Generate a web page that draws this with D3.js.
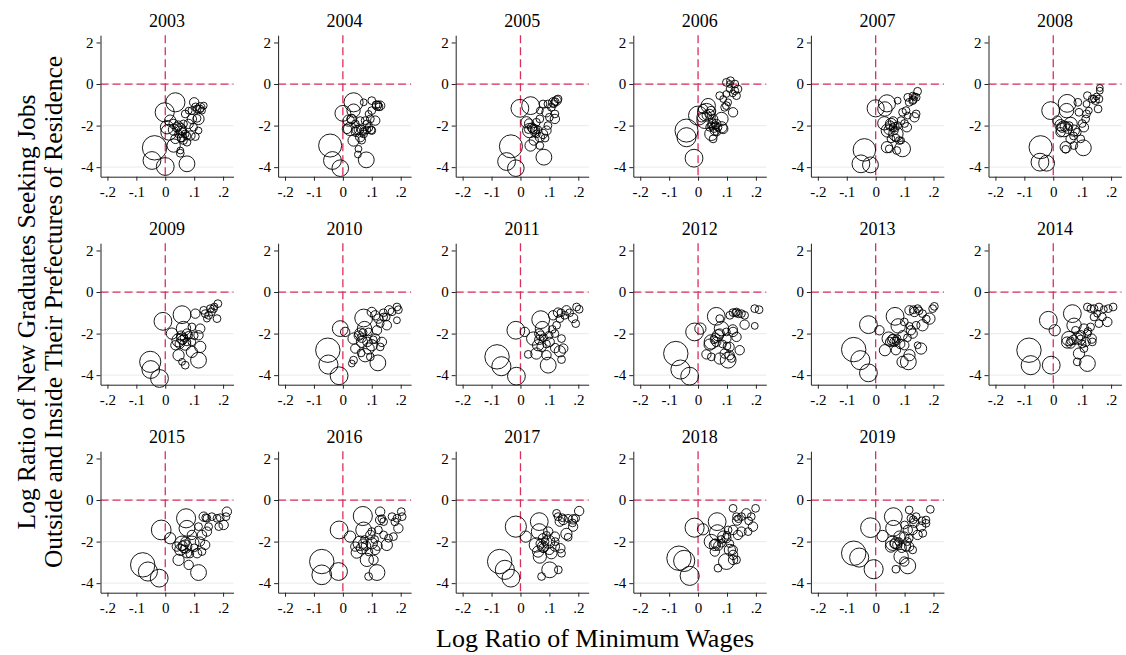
<!DOCTYPE html>
<html>
<head>
<meta charset="utf-8">
<script src="https://cdn.jsdelivr.net/npm/d3@7"></script>
<style>
  body { margin: 0; background: #fff; }
  text { font-family: "Liberation Serif", "Times New Roman", serif; }
</style>
</head>
<body>
<script>
// panels, one per year
const years = [2003, 2004, 2005, 2006, 2007, 2008, 2009, 2010, 2011, 2012, 2013, 2014, 2015, 2016, 2017, 2018, 2019];
const xTicks = [-0.2, -0.1, 0, 0.1, 0.2];
const xTickLabels = ["-.2", "-.1", "0", ".1", ".2"];
const yTicks = [-4, -2, 0, 2];
const gridTicks = [-4, -2, 0];

// [log ratio of min wages, log ratio of job seekers, weight]
const pts2003 = [[-0.037,-3.07,95],[-0.046,-3.68,48],[0,-3.97,48],[0.075,-3.84,37],[-0.002,-1.36,56],[0.035,-0.88,56],[0.012,-2.32,37],[0.029,-2.96,25],[0.017,-1.76,17],[0.052,-2.16,17],[0.052,-3.2,5],[0.052,-3.33,7],[0.1,-0.88,11],[0.092,-1.28,7],[0.121,-1.12,11],[0.115,-1.68,17],[0.092,-1.68,11],[0.087,-2.48,11],[0.104,-2.53,7],[0.075,-2.8,7],[0.058,-2.56,11],[0.04,-2.08,11],[0.063,-1.92,7],[0.069,-1.44,7],[0.11,-1.2,7],[0.133,-1.04,5],[0.127,-1.28,5],[0.081,-1.28,5],[0.058,-2.24,11],[0.029,-1.92,11],[0.046,-2.4,7],[0.069,-2.4,7],[0.063,-2.72,7],[0.006,-2.08,25],[0.081,-1.92,11],[0.098,-2.08,7],[0.035,-2.64,11],[0.115,-2.24,5],[0.045,-2.0,11],[0.06,-2.3,7],[0.055,-2.6,7],[0.105,-1.1,7],[0.12,-1.2,7],[0.11,-1.65,7],[0.03,-2.2,17],[0.075,-2.5,7]];
const pts2004 = [[-0.044,-2.96,84],[-0.036,-3.68,48],[-0.009,-4.05,41],[0.081,-3.65,37],[0,-1.41,37],[0.037,-0.88,56],[0.037,-1.28,25],[0.025,-2.16,25],[0.037,-2.72,17],[0.02,-1.76,17],[0.048,-2.21,11],[0.066,-2.21,11],[0.083,-2.21,7],[0.098,-2.21,7],[0.06,-2.56,11],[0.072,-2.4,7],[0.054,-3.12,5],[0.052,-3.39,5],[0.1,-0.8,7],[0.118,-1.04,11],[0.129,-1.04,11],[0.1,-1.28,7],[0.072,-0.88,5],[0.095,-1.68,7],[0.112,-1.76,11],[0.077,-1.76,7],[0.089,-1.44,5],[0.083,-1.92,7],[0.06,-1.76,7],[0.031,-1.68,11],[0.014,-2.16,11],[0.1,-2.24,7],[0.123,-0.99,5],[0.043,-1.92,7],[0.045,-2.3,11],[0.055,-2.2,11],[0.07,-2.3,7],[0.09,-2.1,7],[0.115,-1.0,7],[0.125,-1.1,7],[0.03,-1.7,11],[0.065,-2.7,7]];
const pts2005 = [[-0.033,-3.0,84],[-0.048,-3.73,48],[-0.016,-4.05,41],[0.081,-3.52,37],[-0.002,-1.17,48],[0.035,-1.04,48],[0.032,-2.24,30],[0.021,-1.84,17],[0.035,-2.96,17],[0.046,-2.72,11],[0.067,-2.96,7],[0.067,-2.56,11],[0.05,-2.19,11],[0.044,-2.16,11],[0.027,-2.19,7],[0.078,-2.4,11],[0.09,-2.24,11],[0.067,-1.68,7],[0.09,-1.36,11],[0.119,-1.68,11],[0.119,-1.44,7],[0.078,-0.96,7],[0.095,-0.96,7],[0.113,-0.88,11],[0.125,-0.8,11],[0.13,-0.72,7],[0.107,-1.12,7],[0.067,-1.28,5],[0.055,-1.84,7],[0.095,-2.0,7],[0.055,-2.4,7],[0.05,-2.3,11],[0.04,-2.1,11],[0.06,-2.2,7],[0.12,-0.85,7],[0.115,-0.95,7],[0.1,-1.6,7],[0.085,-2.6,7],[0.03,-1.9,11]];
const pts2006 = [[-0.04,-2.24,84],[-0.04,-2.56,56],[-0.014,-3.57,48],[0,-1.52,56],[0.029,-1.36,48],[0.035,-1.04,30],[0.023,-1.76,37],[0.046,-2.4,25],[0.081,-1.68,25],[0.081,-2.08,17],[0.052,-2.64,7],[0.063,-1.92,11],[0.052,-1.68,11],[0.04,-1.44,11],[0.046,-2.0,7],[0.069,-2.08,7],[0.087,-2.16,11],[0.121,-1.36,11],[0.098,-1.04,7],[0.075,-0.56,7],[0.087,-0.72,5],[0.127,-0.32,7],[0.098,0.08,7],[0.112,0.16,7],[0.127,0,7],[0.109,-0.24,5],[0.133,-0.56,7],[0.138,-0.24,7],[0.098,-0.48,5],[0.104,-0.88,5],[0.092,-1.12,7],[0.017,-1.2,11],[0.012,-1.6,11],[0.058,-2.24,11],[0.04,-2.08,7],[0.05,-1.9,11],[0.055,-2.1,11],[0.06,-2.0,7],[0.03,-1.5,11],[0.065,-2.3,7],[0.11,0.0,5],[0.12,-0.45,5],[0.045,-1.3,11]];
const pts2007 = [[-0.039,-3.17,80],[-0.051,-3.84,48],[-0.018,-3.89,37],[0.093,-3.12,37],[0,-1.17,44],[0.039,-0.93,44],[0.032,-1.2,30],[0.03,-1.89,25],[0.042,-2.24,25],[0.07,-2.4,30],[0.053,-1.92,17],[0.039,-3.04,17],[0.047,-3.12,7],[0.073,-3.2,7],[0.065,-2.08,11],[0.082,-2.72,7],[0.076,-2.0,7],[0.108,-2.08,11],[0.088,-1.76,7],[0.093,-1.36,7],[0.076,-0.8,5],[0.111,-0.64,7],[0.116,-0.88,7],[0.128,-0.8,7],[0.14,-0.64,7],[0.145,-0.35,7],[0.128,-0.56,5],[0.134,-1.6,11],[0.14,-1.44,7],[0.111,-1.52,5],[0.105,-1.28,7],[0.088,-2.72,5],[0.065,-2.24,7],[0.053,-2.64,7],[0.05,-2.0,11],[0.045,-2.2,11],[0.06,-2.1,7],[0.13,-0.75,7],[0.135,-0.6,5],[0.07,-2.6,7],[0.1,-1.9,7],[0.06,-1.8,11]];
const pts2008 = [[-0.044,-3.04,84],[-0.046,-3.76,48],[-0.023,-3.81,37],[0.104,-3.07,37],[-0.009,-1.28,48],[0.048,-0.93,48],[0.046,-1.28,30],[0.037,-2.16,37],[0.025,-1.98,17],[0.06,-1.92,25],[0.071,-2.24,17],[0.043,-3.04,17],[0.043,-3.14,7],[0.071,-2.96,7],[0.095,-2.64,7],[0.06,-2.64,11],[0.083,-2.32,7],[0.106,-2.08,11],[0.112,-1.68,7],[0.089,-1.36,7],[0.085,-0.88,7],[0.118,-0.56,7],[0.115,-0.96,5],[0.135,-0.72,7],[0.146,-0.8,7],[0.158,-0.72,7],[0.161,-0.32,5],[0.161,-0.19,5],[0.155,-1.2,7],[0.123,-1.28,5],[0.115,-1.44,7],[0.014,-1.76,11],[0.025,-2.32,11],[0.04,-2.05,11],[0.05,-2.15,11],[0.055,-2.0,7],[0.15,-0.6,5],[0.14,-0.7,5],[0.07,-2.5,7],[0.1,-1.9,7],[0.03,-2.1,11]];
const pts2009 = [[-0.052,-3.36,70],[-0.05,-3.73,48],[-0.02,-4.16,48],[0.115,-3.28,37],[-0.008,-1.41,48],[0.058,-1.09,48],[0.063,-1.76,30],[0.046,-2.32,25],[0.058,-2.24,17],[0.046,-3.04,17],[0.023,-2.0,17],[0.069,-2.53,17],[0.092,-2.88,17],[0.121,-2.64,17],[0.058,-3.36,5],[0.069,-3.52,7],[0.104,-1.04,11],[0.121,-1.76,11],[0.115,-2.08,11],[0.092,-2.4,7],[0.133,-0.88,7],[0.138,-1.04,7],[0.15,-1.12,7],[0.167,-0.8,7],[0.182,-0.56,7],[0.179,-1.28,7],[0.156,-0.8,7],[0.144,-1.28,5],[0.081,-2.08,7],[0.035,-2.56,11],[0.092,-1.68,7],[0.075,-2.0,11],[0.055,-2.1,11],[0.06,-2.3,11],[0.065,-2.2,7],[0.075,-2.4,7],[0.17,-0.7,5],[0.16,-0.95,7],[0.05,-2.5,11],[0.1,-2.1,7]];
const pts2010 = [[-0.052,-2.8,95],[-0.05,-3.49,56],[-0.013,-4.03,48],[0.121,-3.41,37],[-0.009,-1.76,37],[0.008,-1.92,11],[0.072,-1.25,48],[0.075,-1.76,30],[0.037,-2.24,17],[0.06,-2.0,17],[0.066,-2.4,17],[0.077,-3.04,25],[0.089,-2.72,17],[0.1,-2.56,17],[0.129,-2.64,7],[0.043,-2.72,11],[0.031,-3.44,5],[0.037,-3.28,7],[0.063,-2.93,7],[0.095,-3.12,7],[0.1,-0.96,11],[0.112,-1.12,11],[0.123,-1.28,11],[0.118,-1.84,11],[0.112,-2.24,11],[0.135,-2.4,11],[0.152,-1.6,11],[0.129,-1.52,7],[0.16,-0.88,11],[0.187,-0.72,7],[0.192,-0.85,7],[0.187,-1.36,5],[0.089,-1.92,7],[0.141,-1.2,7],[0.055,-2.1,11],[0.065,-2.2,11],[0.07,-1.95,7],[0.105,-2.3,7],[0.17,-0.95,7],[0.14,-1.0,7],[0.085,-2.4,11],[0.15,-1.2,7]];
const pts2011 = [[-0.081,-3.12,95],[-0.066,-3.57,56],[-0.014,-4.05,48],[0.096,-3.52,37],[-0.016,-1.84,48],[0.015,-1.92,11],[0.07,-1.33,48],[0.076,-1.76,30],[0.044,-2.24,25],[0.065,-2.0,11],[0.061,-2.56,17],[0.055,-2.96,17],[0.027,-3.0,7],[0.09,-3.04,11],[0.101,-2.4,11],[0.136,-2.85,17],[0.142,-3.25,7],[0.148,-2.72,11],[0.142,-2.24,7],[0.119,-2.0,7],[0.113,-1.12,11],[0.13,-0.99,11],[0.125,-1.6,7],[0.136,-1.28,7],[0.159,-0.88,11],[0.153,-1.12,7],[0.182,-1.25,11],[0.191,-1.52,7],[0.194,-0.72,7],[0.203,-0.83,7],[0.099,-2.08,7],[0.073,-2.64,11],[0.07,-2.1,11],[0.08,-2.2,7],[0.065,-2.3,11],[0.14,-1.0,7],[0.17,-1.0,7],[0.12,-2.7,11],[0.09,-2.5,7],[0.11,-1.8,7]];
const pts2012 = [[-0.077,-2.96,95],[-0.061,-3.73,56],[-0.029,-4.05,48],[0.104,-3.28,37],[-0.012,-1.92,48],[0.008,-1.76,17],[0.063,-1.17,48],[0.081,-1.76,30],[0.046,-2.4,30],[0.04,-2.53,17],[0.069,-2.08,17],[0.063,-2.4,11],[0.029,-3.0,11],[0.046,-3.12,7],[0.075,-3.2,17],[0.092,-2.96,11],[0.109,-3.04,11],[0.115,-3.2,7],[0.109,-2.64,11],[0.144,-2.8,11],[0.098,-2.24,11],[0.121,-1.92,11],[0.133,-2.16,11],[0.098,-1.92,7],[0.11,-1.12,7],[0.121,-0.99,7],[0.133,-0.96,7],[0.15,-1.04,7],[0.161,-1.12,7],[0.161,-1.57,11],[0.196,-1.63,5],[0.196,-0.8,7],[0.211,-0.85,7],[0.075,-1.28,7],[0.06,-2.2,11],[0.075,-2.0,11],[0.055,-2.3,7],[0.13,-1.0,7],[0.12,-1.8,11],[0.1,-2.6,7],[0.085,-2.5,7],[0.14,-1.05,7]];
const pts2013 = [[-0.076,-2.77,95],[-0.053,-3.28,56],[-0.025,-3.89,48],[0.113,-3.36,37],[-0.025,-1.57,48],[0.013,-1.84,11],[0.067,-1.17,48],[0.078,-1.63,30],[0.032,-2.8,17],[0.045,-2.24,25],[0.059,-2.32,17],[0.065,-2.4,11],[0.074,-2.24,7],[0.07,-2.8,11],[0.099,-2.56,11],[0.093,-2.08,11],[0.093,-3.36,17],[0.117,-3.04,17],[0.117,-0.88,11],[0.134,-0.96,11],[0.145,-0.8,7],[0.162,-1.04,7],[0.162,-1.6,17],[0.157,-2.72,17],[0.145,-2.56,5],[0.14,-1.6,7],[0.122,-1.84,11],[0.128,-2.0,11],[0.186,-1.28,17],[0.197,-0.8,7],[0.203,-0.69,7],[0.099,-1.44,7],[0.117,-1.63,5],[0.06,-2.25,11],[0.07,-2.35,7],[0.05,-2.4,11],[0.13,-0.85,7],[0.175,-1.3,7],[0.11,-2.2,7],[0.085,-2.5,11],[0.15,-0.9,7]];
const pts2014 = [[-0.084,-2.8,95],[-0.078,-3.52,56],[-0.007,-3.52,48],[0.118,-3.44,37],[-0.017,-1.36,48],[0.005,-1.84,17],[0.066,-1.04,48],[0.072,-1.6,30],[0.054,-2.24,30],[0.048,-2.43,17],[0.06,-2.48,11],[0.083,-2.24,17],[0.095,-2.08,11],[0.089,-2.96,17],[0.083,-3.36,7],[0.106,-2.72,7],[0.112,-2.4,11],[0.133,-2.24,11],[0.135,-2.4,7],[0.118,-0.72,7],[0.141,-0.8,7],[0.158,-0.72,7],[0.175,-0.83,5],[0.207,-0.72,7],[0.187,-1.44,11],[0.158,-1.52,7],[0.141,-1.2,7],[0.129,-1.68,7],[0.118,-2.0,7],[0.106,-1.76,11],[0.077,-1.84,7],[0.152,-1.04,5],[0.07,-2.3,11],[0.06,-2.35,7],[0.095,-2.3,11],[0.13,-0.8,7],[0.17,-1.2,7],[0.1,-2.5,7],[0.12,-1.9,7],[0.19,-0.8,7]];
const pts2015 = [[-0.078,-3.12,95],[-0.06,-3.44,56],[-0.021,-3.76,48],[0.115,-3.49,37],[-0.014,-1.44,60],[0.017,-1.84,17],[0.072,-0.88,56],[0.075,-1.36,37],[0.058,-2.08,30],[0.052,-2.4,17],[0.069,-2.24,25],[0.092,-2.08,30],[0.046,-2.88,17],[0.075,-2.56,11],[0.081,-3.12,11],[0.092,-1.68,11],[0.11,-2.56,11],[0.127,-2.48,7],[0.138,-2.16,11],[0.127,-1.68,11],[0.144,-1.52,11],[0.133,-0.8,11],[0.144,-0.88,7],[0.161,-0.8,7],[0.179,-0.88,7],[0.202,-1.2,11],[0.21,-0.8,7],[0.213,-0.56,11],[0.185,-1.28,7],[0.15,-1.28,7],[0.115,-1.28,7],[0.04,-2.24,11],[0.06,-2.2,11],[0.07,-2.0,11],[0.065,-2.35,7],[0.14,-0.85,7],[0.19,-0.85,7],[0.1,-2.3,7],[0.12,-2.0,11],[0.085,-2.6,7]];
const pts2016 = [[-0.073,-2.96,95],[-0.073,-3.6,60],[-0.015,-3.44,48],[0.118,-3.49,37],[-0.013,-1.44,48],[0.025,-1.76,17],[0.069,-0.77,56],[0.072,-1.44,37],[0.06,-2.08,30],[0.048,-2.53,17],[0.083,-2.88,25],[0.066,-2.32,17],[0.1,-2.08,17],[0.112,-2.4,11],[0.089,-3.68,7],[0.106,-2.88,11],[0.129,-0.56,11],[0.129,-0.96,11],[0.141,-1.04,7],[0.123,-1.44,7],[0.141,-1.68,7],[0.152,-2.16,17],[0.158,-1.84,7],[0.17,-0.8,7],[0.187,-0.88,7],[0.202,-0.56,7],[0.205,-0.8,7],[0.192,-1.36,11],[0.175,-1.76,7],[0.095,-1.68,11],[0.1,-1.52,7],[0.043,-2.24,11],[0.07,-2.1,11],[0.08,-2.2,11],[0.075,-1.9,7],[0.135,-0.9,7],[0.18,-1.05,7],[0.11,-1.9,7],[0.12,-2.2,11],[0.09,-2.5,7]];
const pts2017 = [[-0.072,-2.96,95],[-0.054,-3.36,56],[-0.033,-3.76,48],[0.101,-3.36,37],[-0.016,-1.28,70],[0.018,-1.76,17],[0.065,-1.04,48],[0.065,-1.52,37],[0.055,-2.16,30],[0.061,-2.48,17],[0.067,-2.72,25],[0.078,-2.24,17],[0.096,-2.0,25],[0.107,-2.56,17],[0.073,-3.68,7],[0.131,-3.36,7],[0.125,-0.64,7],[0.13,-0.8,7],[0.136,-1.04,11],[0.148,-0.96,11],[0.165,-0.88,7],[0.182,-0.93,11],[0.191,-0.88,7],[0.203,-0.53,11],[0.182,-1.28,11],[0.159,-1.63,17],[0.165,-1.79,7],[0.138,-2.32,11],[0.142,-2.56,7],[0.119,-2.24,11],[0.119,-1.76,11],[0.096,-1.52,11],[0.078,-1.84,11],[0.07,-2.1,11],[0.08,-2.3,11],[0.085,-2.0,7],[0.145,-0.85,7],[0.18,-1.1,7],[0.12,-2.0,7],[0.1,-2.4,11],[0.09,-1.7,7]];
const pts2018 = [[-0.066,-2.8,95],[-0.048,-2.93,70],[-0.029,-3.65,56],[0.098,-2.96,37],[-0.012,-1.33,56],[0.017,-1.41,17],[0.066,-1.04,48],[0.067,-1.57,37],[0.046,-2.0,30],[0.058,-2.16,17],[0.058,-2.48,11],[0.087,-1.76,17],[0.098,-1.84,11],[0.121,-1.44,11],[0.11,-2.4,17],[0.121,-2.64,11],[0.133,-2.88,7],[0.121,-2.88,11],[0.069,-3.28,7],[0.121,-0.4,7],[0.133,-0.8,7],[0.135,-0.99,11],[0.15,-0.8,7],[0.167,-0.64,11],[0.184,-0.8,7],[0.199,-0.4,7],[0.19,-1.28,11],[0.173,-1.52,7],[0.15,-1.52,11],[0.138,-1.68,11],[0.104,-1.44,7],[0.081,-2.08,7],[0.06,-2.1,11],[0.07,-2.2,11],[0.08,-1.9,7],[0.14,-0.9,7],[0.175,-1.0,7],[0.11,-2.1,7],[0.12,-2.4,11],[0.1,-1.7,7]];
const pts2019 = [[-0.076,-2.56,95],[-0.057,-2.77,56],[-0.007,-3.33,56],[0.111,-3.17,37],[-0.018,-1.33,60],[0.024,-1.73,17],[0.061,-0.8,48],[0.062,-1.36,37],[0.059,-2.08,30],[0.053,-2.24,17],[0.07,-2.08,17],[0.082,-1.76,17],[0.088,-2.72,30],[0.099,-2.96,11],[0.07,-3.33,7],[0.116,-2.24,11],[0.128,-2.4,7],[0.116,-0.48,7],[0.122,-0.88,7],[0.14,-0.8,7],[0.134,-1.09,11],[0.128,-1.44,11],[0.145,-1.68,11],[0.157,-1.28,11],[0.174,-1.12,7],[0.189,-0.45,7],[0.174,-0.96,7],[0.163,-1.6,7],[0.111,-1.44,11],[0.099,-1.76,11],[0.116,-1.84,7],[0.105,-2.24,11],[0.065,-2.1,11],[0.075,-2.15,11],[0.08,-2.0,7],[0.13,-0.95,7],[0.16,-1.0,7],[0.11,-2.0,7],[0.09,-2.3,11],[0.1,-1.2,7]];

const yearData = {
  2003: pts2003, 2004: pts2004, 2005: pts2005, 2006: pts2006, 2007: pts2007, 2008: pts2008,
  2009: pts2009, 2010: pts2010, 2011: pts2011, 2012: pts2012, 2013: pts2013, 2014: pts2014,
  2015: pts2015, 2016: pts2016, 2017: pts2017, 2018: pts2018, 2019: pts2019
};

const width = 1126, height = 655;
const plotW = 133, plotH = 141.5;
const left0 = 100.5, top0 = 35.2;
const colStep = 177.6, rowStep = 208;
const red = "#d8305c";

const svg = d3.select("body").append("svg")
  .attr("width", width)
  .attr("height", height);

// bubble radius by weight
const r = d3.scaleSqrt().domain([0, 100]).range([0.8, 12.5]);

years.forEach((yr, i) => {
  const col = i % 6, row = Math.floor(i / 6);
  const x0 = left0 + col * colStep;
  const y0 = top0 + row * rowStep;

  const x = d3.scaleLinear().domain([-0.224, 0.236]).range([x0, x0 + plotW]);
  const y = d3.scaleLinear().domain([-4.46, 2.35]).range([y0 + plotH, y0]);

  const g = svg.append("g");

  // grid
  g.selectAll(".grid")
    .data(gridTicks)
    .enter()
    .append("line")
    .attr("x1", x0).attr("x2", x0 + plotW)
    .attr("y1", d => y(d)).attr("y2", d => y(d))
    .attr("stroke", "#e9efef")
    .attr("stroke-width", 1.2);

  // reference lines at zero
  g.append("line")
    .attr("x1", x0).attr("x2", x0 + plotW)
    .attr("y1", y(0)).attr("y2", y(0))
    .attr("stroke", red).attr("stroke-width", 1.3)
    .attr("stroke-dasharray", "8,4");
  g.append("line")
    .attr("x1", x(0)).attr("x2", x(0))
    .attr("y1", y0).attr("y2", y0 + plotH)
    .attr("stroke", red).attr("stroke-width", 1.3)
    .attr("stroke-dasharray", "8,4");

  // bubbles
  g.selectAll("circle")
    .data(yearData[yr])
    .enter()
    .append("circle")
    .attr("cx", d => x(d[0]))
    .attr("cy", d => y(d[1]))
    .attr("r", d => r(d[2]))
    .attr("fill", "none")
    .attr("stroke", "#000")
    .attr("stroke-width", 0.9);

  // axes
  const ax = g.append("g")
    .attr("transform", "translate(0," + (y0 + plotH) + ")")
    .call(d3.axisBottom(x).tickValues(xTicks).tickFormat((d, k) => xTickLabels[k]).tickSize(4).tickPadding(6).tickSizeOuter(0));
  const ay = g.append("g")
    .attr("transform", "translate(" + x0 + ",0)")
    .call(d3.axisLeft(y).tickValues(yTicks).tickFormat(d => d).tickSize(4).tickPadding(3).tickSizeOuter(0));

  [ax, ay].forEach(a => {
    a.selectAll("text")
      .attr("font-family", "Liberation Serif")
      .attr("font-size", 15)
      .attr("fill", "#000");
    a.selectAll("path, line").attr("stroke", "#222");
  });

  g.append("text")
    .attr("x", x0 + plotW / 2)
    .attr("y", y0 - 8.5)
    .attr("text-anchor", "middle")
    .attr("font-size", 18)
    .text(yr);
});

// axis titles
svg.append("text")
  .attr("x", 436)
  .attr("y", 647)
  .attr("font-size", 26)
  .text("Log Ratio of Minimum Wages");

const yTitle = ["Log Ratio of New Graduates Seeking Jobs", "Outside and Inside Their Prefectures of Residence"];
svg.selectAll(".ytitle")
  .data(yTitle)
  .enter()
  .append("text")
  .attr("transform", (d, k) => "translate(" + (35 + k * 27) + ",312) rotate(-90)")
  .attr("text-anchor", "middle")
  .attr("font-size", 25.5)
  .text(d => d);
</script>
</body>
</html>
